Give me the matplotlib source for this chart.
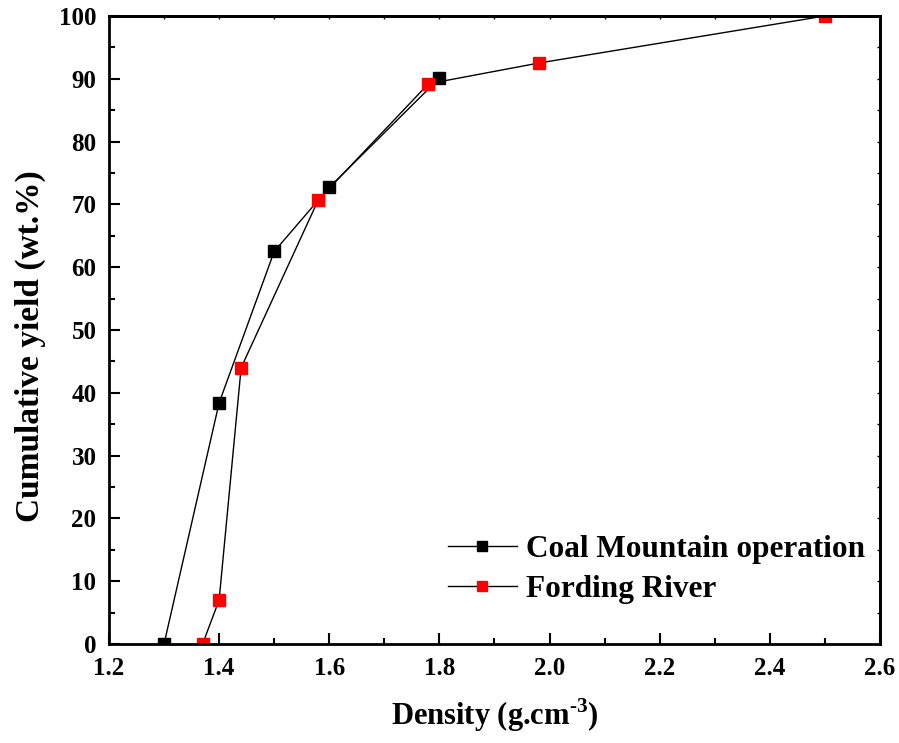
import matplotlib
matplotlib.use("Agg")
import matplotlib.pyplot as plt
from matplotlib.ticker import MultipleLocator

# cumulative yield vs. float-sink density
coal_density = [1.3, 1.4, 1.5, 1.6, 1.8]
coal_yield = [0.0, 38.4, 62.5, 72.7, 90.1]

fording_density = [1.37, 1.4, 1.44, 1.58, 1.78, 1.98, 2.5]
fording_yield = [0.0, 7.0, 44.0, 70.7, 89.2, 92.5, 100.0]

plt.rcParams["font.family"] = ["Liberation Serif", "DejaVu Serif"]
plt.rcParams["font.weight"] = "bold"
plt.rcParams["xtick.labelsize"] = 18
plt.rcParams["ytick.labelsize"] = 18
plt.rcParams["mathtext.fontset"] = "custom"
plt.rcParams["mathtext.rm"] = "Liberation Serif"
plt.rcParams["mathtext.bf"] = "Liberation Serif:bold"

fig = plt.figure(figsize=(8.99, 7.43), dpi=100)
ax = fig.add_axes([0.1212, 0.1332, 0.8577, 0.8453])

ax.plot(coal_density, coal_yield, color="black", lw=1.0, marker="s",
        markersize=9, markerfacecolor="black", markeredgecolor="black",
        label="Coal Mountain operation")
ax.plot(fording_density, fording_yield, color="black", lw=1.0, marker="s",
        markersize=9, markerfacecolor="red", markeredgecolor="red",
        label="Fording River")

ax.set_xlim(1.2, 2.6)
ax.set_ylim(0, 100)
ax.xaxis.set_major_locator(MultipleLocator(0.2))
ax.xaxis.set_minor_locator(MultipleLocator(0.1))
ax.yaxis.set_major_locator(MultipleLocator(10))
ax.yaxis.set_minor_locator(MultipleLocator(5))
ax.xaxis.set_major_formatter(plt.FormatStrFormatter("%.1f"))

ax.tick_params(which="both", direction="in", width=1.5)
ax.tick_params(which="major", length=8, pad=9, labelsize=18)
ax.tick_params(which="minor", length=4.5)
for s in ax.spines.values():
    s.set_linewidth(2)

# short ticks on the top and right frame
top = ax.secondary_xaxis("top")
top.xaxis.set_major_locator(MultipleLocator(0.1))
top.tick_params(direction="in", length=2.5, width=1, labeltop=False)
right = ax.secondary_yaxis("right")
right.yaxis.set_major_locator(MultipleLocator(5))
right.tick_params(direction="in", length=2.5, width=1, labelright=False)
for sec in (top, right):
    for s in sec.spines.values():
        s.set_linewidth(2)

ax.set_xlabel("Density (g.cm$^{\\mathbf{\u2010}\\mathbf{3}}$)", fontsize=22,
              fontweight="bold", labelpad=12)
ax.set_ylabel("Cumulative yield (wt.%)", fontsize=24, fontweight="bold")
ax.yaxis.set_label_coords(-0.082, 0.4745)

ax.legend(loc="upper left", bbox_to_anchor=(448 / 899, 1 - 535 / 743),
          bbox_transform=fig.transFigure, frameon=False, fontsize=22.5,
          markerscale=0.85, handlelength=2.2, handletextpad=0.3,
          labelspacing=0.35, borderpad=0, borderaxespad=0)

fig.savefig("out.png", dpi=100)
